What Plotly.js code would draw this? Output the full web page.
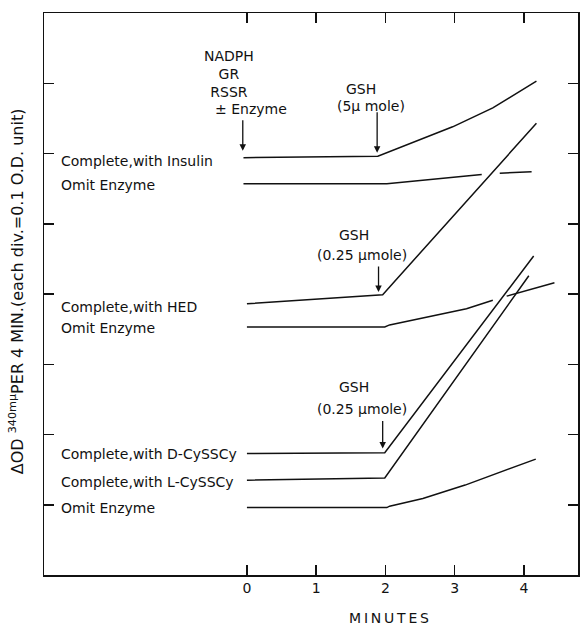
<!DOCTYPE html>
<html>
<head>
<meta charset="utf-8">
<script src="https://cdn.plot.ly/plotly-3.0.1.min.js"></script>
<style>html,body{margin:0;padding:0;background:#fff;}#chart{width:580px;height:626px;}</style>
</head>
<body>
<div id="chart"></div>
<script>
// ---- data (minutes vs ΔOD 340 mμ) ----
const insulinCompleteX = [-0.05, 1.89, 2.97, 3.55, 4.18];
const insulinCompleteY = [0.594, 0.596, 0.638, 0.665, 0.703];
const insulinOmitX = [-0.05, 2.02, 3.39, 3.52, 3.65, 4.11];
const insulinOmitY = [0.557, 0.557, 0.570, null, 0.572, 0.574];
const hedCompleteX = [0, 1.96, 2.06, 4.18];
const hedCompleteY = [0.386, 0.399, 0.410, 0.643];
const hedOmitX = [0, 1.99, 2.06, 3.17, 3.55, 3.65, 3.75, 4.44];
const hedOmitY = [0.353, 0.353, 0.356, 0.379, 0.391, null, 0.397, 0.416];
const dCysX = [0, 1.99, 4.14];
const dCysY = [0.173, 0.174, 0.454];
const lCysX = [0, 1.99, 4.07];
const lCysY = [0.135, 0.138, 0.426];
const cysOmitX = [0, 2.02, 2.06, 2.54, 3.15, 4.17];
const cysOmitY = [0.096, 0.096, 0.098, 0.109, 0.128, 0.165];

const xTickVals = [0, 1, 2, 3, 4];
const xTickText = ['0', '1', '2', '3', '4'];
const yTickVals = [0.1, 0.2, 0.3, 0.4, 0.5, 0.6, 0.7];

// curve labels: [text, x, y]
const curveLabels = [
  ['Complete,with Insulin', -2.70, 0.589],
  ['Omit Enzyme', -2.70, 0.555],
  ['Complete,with HED', -2.70, 0.382],
  ['Omit Enzyme', -2.70, 0.352],
  ['Complete,with D-CySSCy', -2.70, 0.172],
  ['Complete,with L-CySSCy', -2.70, 0.132],
  ['Omit Enzyme', -2.70, 0.095]
];
// addition notes: [text, x, y]
const noteLabels = [
  ['NADPH<br>GR<br>RSSR', -0.255, 0.713],
  ['± Enzyme', 0.06, 0.663],
  ['GSH', 1.645, 0.692],
  ['(5μ mole)', 1.79, 0.667],
  ['GSH', 1.544, 0.484],
  ['(0.25 μmole)', 1.66, 0.455],
  ['GSH', 1.544, 0.268],
  ['(0.25 μmole)', 1.66, 0.237]
];
// arrows: [x, tipY, lengthPx]
const arrows = [
  [-0.06, 0.604, 32],
  [1.88, 0.601, 42],
  [1.90, 0.403, 27],
  [1.96, 0.180, 29]
];

const FONT = 'DejaVu Sans, Verdana, sans-serif';
const INK = '#111';
const lineStyle = {color: INK, width: 1.5};

function tr(x, y) {
  return {x: x, y: y, type: 'scatter', mode: 'lines', line: lineStyle,
          connectgaps: false, hoverinfo: 'skip', showlegend: false};
}
const data = [
  tr(insulinCompleteX, insulinCompleteY),
  tr(insulinOmitX, insulinOmitY),
  tr(hedCompleteX, hedCompleteY),
  tr(hedOmitX, hedOmitY),
  tr(dCysX, dCysY),
  tr(lCysX, lCysY),
  tr(cysOmitX, cysOmitY)
];

const annotations = [];
curveLabels.forEach(l => annotations.push({
  text: l[0], x: l[1], y: l[2], xref: 'x', yref: 'y',
  xanchor: 'left', yanchor: 'middle', showarrow: false, borderpad: 0,
  font: {family: FONT, size: 14, color: INK}
}));
noteLabels.forEach(l => annotations.push({
  text: l[0], x: l[1], y: l[2], xref: 'x', yref: 'y',
  xanchor: 'center', yanchor: 'middle', showarrow: false, borderpad: 0,
  font: {family: FONT, size: 14, color: INK}
}));
arrows.forEach(a => annotations.push({
  text: '', x: a[0], y: a[1], xref: 'x', yref: 'y',
  showarrow: true, ax: 0, ay: -a[2], arrowhead: 2, arrowsize: 1,
  arrowwidth: 1.3, arrowcolor: INK
}));
annotations.push({
  text: 'ΔOD <sup>340mμ</sup>PER 4 MIN.(each div.=0.1 O.D. unit)',
  xref: 'paper', yref: 'paper', x: -0.0524, y: 0.505,
  xanchor: 'center', yanchor: 'middle', textangle: -90, showarrow: false,
  font: {family: FONT, size: 16, color: INK}
});
annotations.push({
  text: 'M\u2009I\u2009N\u2009U\u2009T\u2009E\u2009S',
  xref: 'x', yref: 'paper', x: 2.05, y: -0.077,
  xanchor: 'center', yanchor: 'middle', showarrow: false, borderpad: 0,
  font: {family: FONT, size: 14, color: INK}
});

const layout = {
  width: 580, height: 626,
  margin: {l: 44, r: 2, t: 13, b: 51},
  paper_bgcolor: '#fff', plot_bgcolor: '#fff',
  showlegend: false,
  font: {family: FONT, size: 14, color: INK},
  xaxis: {
    range: [-2.93, 4.78], tickvals: xTickVals, ticktext: xTickText,
    ticks: 'inside', ticklen: 10, tickwidth: 1.5, tickcolor: INK,
    showline: true, linewidth: 1.5, linecolor: INK, mirror: 'ticks',
    showgrid: false, zeroline: false, fixedrange: true,
    tickfont: {family: FONT, size: 14, color: INK}
  },
  yaxis: {
    range: [0, 0.8], tickvals: yTickVals, showticklabels: false,
    ticks: 'inside', ticklen: 10, tickwidth: 1.5, tickcolor: INK,
    showline: true, linewidth: 1.5, linecolor: INK, mirror: 'ticks',
    showgrid: false, zeroline: false, fixedrange: true
  },
  annotations: annotations
};

Plotly.newPlot('chart', data, layout, {staticPlot: true, displayModeBar: false});
</script>
</body>
</html>
